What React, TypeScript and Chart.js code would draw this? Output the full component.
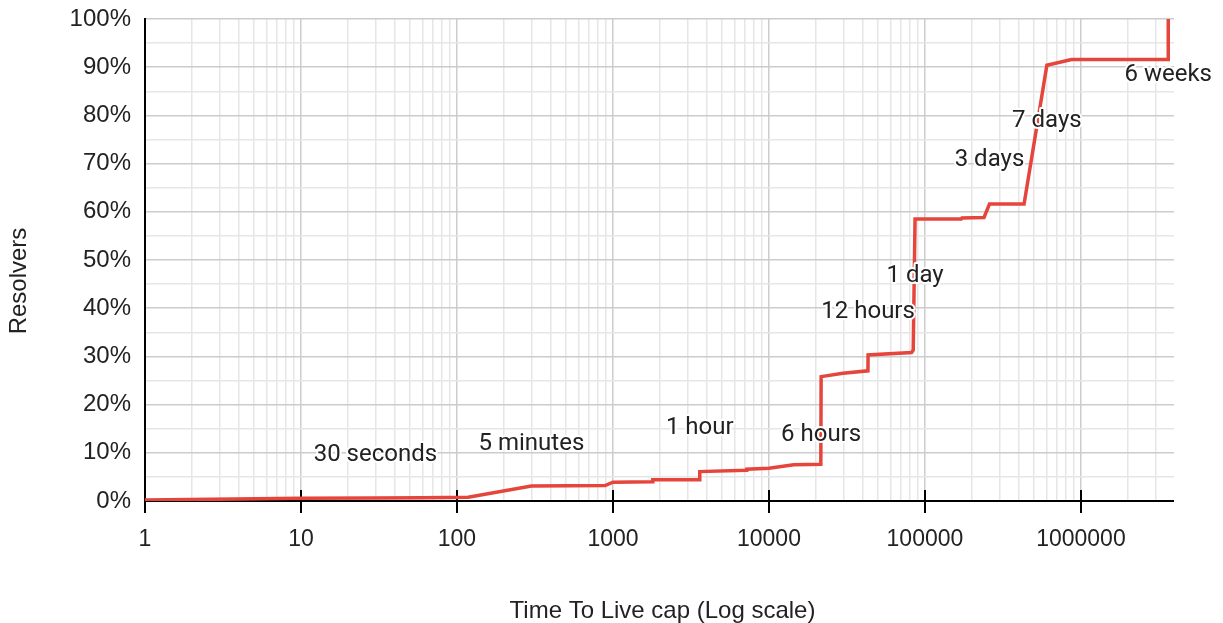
import { useEffect, useRef } from 'react';
import { Chart, registerables } from 'chart.js';

Chart.register(...registerables);

// TTL cap (seconds) and cumulative share of resolvers (%)
const ttlSeconds = [1, 10, 30, 60, 118, 300, 890, 1000, 1790, 1800, 3590, 3600, 7190, 7200, 10000, 14400, 21500, 21600, 29800, 43100, 43200, 82000, 84100, 86400, 171000, 172800, 239000, 259200, 432000, 604800, 870000, 3628800, 3628800];
const resolverPct = [0.2, 0.55, 0.6, 0.7, 0.8, 3.1, 3.2, 3.9, 4.0, 4.4, 4.4, 6.1, 6.4, 6.6, 6.8, 7.5, 7.6, 25.8, 26.5, 27.0, 30.3, 30.8, 31.3, 58.5, 58.5, 58.7, 58.8, 61.6, 61.6, 90.4, 91.6, 91.6, 100];

// Annotations
const annotationLabels = ['30 seconds', '5 minutes', '1 hour', '6 hours', '12 hours', '1 day', '3 days', '7 days', '6 weeks'];
const annotationTtl = [30, 300, 3600, 21600, 43200, 86400, 259200, 604800, 3628800];
const annotationPct = [10.0, 12.3, 15.7, 14.2, 39.8, 47.3, 71.2, 79.3, 88.9];

// Axis ticks
const xTickLabels = ['1', '10', '100', '1000', '10000', '100000', '1000000'];
const yTickLabels = ['0%', '10%', '20%', '30%', '40%', '50%', '60%', '70%', '80%', '90%', '100%'];
const X_MIN = 1;
const X_MAX = 3.95e6;

const AXIS_FONT = "'Liberation Sans', Arial, sans-serif";
const ANN_FONT = "Roboto, 'Liberation Sans', sans-serif";

const isDecade = (v: number) => {
  if (!(v > 0)) return false;
  const l = Math.log10(v);
  return Math.abs(l - Math.round(l)) < 1e-9;
};

export default function App() {
  const ref = useRef<HTMLCanvasElement>(null);

  useEffect(() => {
    document.body.style.margin = '0';
    const canvas = ref.current!;

    const gridValues: number[] = [];
    for (let k = 0; k < 8; k++) {
      for (let m = 1; m <= 9; m++) {
        const v = m * Math.pow(10, k);
        if (v <= X_MAX) gridValues.push(v);
      }
    }

    const axesPlugin = {
      id: 'axesPlugin',
      beforeDatasetsDraw(chart: any) {
        const { ctx, chartArea } = chart;
        const xs = chart.scales.x;
        ctx.save();
        ctx.strokeStyle = '#000';
        ctx.lineWidth = 2;
        ctx.beginPath();
        ctx.moveTo(chartArea.left, chartArea.top - 1);
        ctx.lineTo(chartArea.left, chartArea.bottom + 12);
        ctx.moveTo(chartArea.left, chartArea.bottom);
        ctx.lineTo(chartArea.right, chartArea.bottom);
        xTickLabels.forEach((_, i) => {
          const px = Math.round(xs.getPixelForValue(Math.pow(10, i)));
          ctx.moveTo(px, chartArea.bottom - 11);
          ctx.lineTo(px, chartArea.bottom + 12);
        });
        ctx.stroke();
        ctx.restore();
      },
      afterDatasetsDraw(chart: any) {
        const { ctx } = chart;
        const xs = chart.scales.x;
        const ys = chart.scales.y;
        ctx.save();
        ctx.font = `24px ${ANN_FONT}`;
        ctx.textAlign = 'center';
        ctx.textBaseline = 'alphabetic';
        ctx.lineJoin = 'round';
        annotationLabels.forEach((t, i) => {
          const px = xs.getPixelForValue(annotationTtl[i]);
          const py = ys.getPixelForValue(annotationPct[i]) + 8.5;
          ctx.strokeStyle = '#ffffff';
          ctx.lineWidth = 4;
          ctx.strokeText(t, px, py);
          ctx.fillStyle = '#222222';
          ctx.fillText(t, px, py);
        });
        ctx.restore();
      },
      afterDraw(chart: any) {
        const { ctx, chartArea } = chart;
        ctx.save();
        ctx.fillStyle = '#222222';
        ctx.font = `24px ${AXIS_FONT}`;
        ctx.textAlign = 'center';
        ctx.textBaseline = 'alphabetic';
        ctx.fillText('Time To Live cap (Log scale)', (chartArea.left + chartArea.right) / 2 + 3, 618);
        ctx.translate(26, 281);
        ctx.rotate(-Math.PI / 2);
        ctx.fillText('Resolvers', 0, 0);
        ctx.restore();
      },
    };

    const zeroPad = (s: any) => {
      s.paddingTop = 0;
      s.paddingBottom = 0;
      s.paddingLeft = 0;
      s.paddingRight = 0;
    };

    const chart = new Chart(canvas, {
      type: 'line',
      data: {
        datasets: [
          {
            data: ttlSeconds.map((x, i) => ({ x, y: resolverPct[i] })),
            borderColor: '#e5453b',
            borderWidth: 3.5,
            pointRadius: 0,
            tension: 0,
            fill: false,
          },
        ],
      },
      options: {
        responsive: false,
        animation: false,
        devicePixelRatio: 1,
        layout: { padding: { top: 19, right: 49, left: 0, bottom: 0 } },
        plugins: { legend: { display: false }, tooltip: { enabled: false } },
        scales: {
          x: {
            type: 'logarithmic',
            min: X_MIN,
            max: X_MAX,
            afterBuildTicks: (s: any) => {
              s.ticks = gridValues.map((v) => ({ value: v }));
            },
            afterFit: (s: any) => {
              s.height = 122;
              zeroPad(s);
            },
            grid: {
              drawTicks: false,
              lineWidth: 1.5,
              color: (c: any) => (isDecade(c.tick?.value) ? '#cccccc' : '#e6e6e6'),
            },
            border: { display: false },
            ticks: {
              autoSkip: false,
              maxRotation: 0,
              minRotation: 0,
              padding: 25,
              color: '#222222',
              font: { size: 23, family: AXIS_FONT },
              callback: (v: any) => {
                const n = Number(v);
                if (!isDecade(n)) return '';
                return xTickLabels[Math.round(Math.log10(n))] ?? '';
              },
            },
          },
          y: {
            type: 'linear',
            min: 0,
            max: 100,
            afterFit: (s: any) => {
              s.width = 145;
              zeroPad(s);
            },
            grid: {
              drawTicks: false,
              lineWidth: 1.5,
              color: (c: any) => ((c.tick?.value ?? 0) % 10 === 0 ? '#cccccc' : '#e6e6e6'),
            },
            border: { display: false },
            ticks: {
              stepSize: 5,
              autoSkip: false,
              padding: 14,
              color: '#222222',
              font: { size: 24, family: AXIS_FONT },
              callback: (v: any) => {
                const n = Number(v);
                return n % 10 === 0 ? yTickLabels[n / 10] : '';
              },
            },
          },
        },
      },
      plugins: [axesPlugin],
    } as any);

    return () => chart.destroy();
  }, []);

  return (
    <div style={{ position: 'fixed', left: 0, top: 0, width: 1223, height: 623, background: '#fff' }}>
      <canvas ref={ref} width={1223} height={623} style={{ display: 'block' }} />
    </div>
  );
}
